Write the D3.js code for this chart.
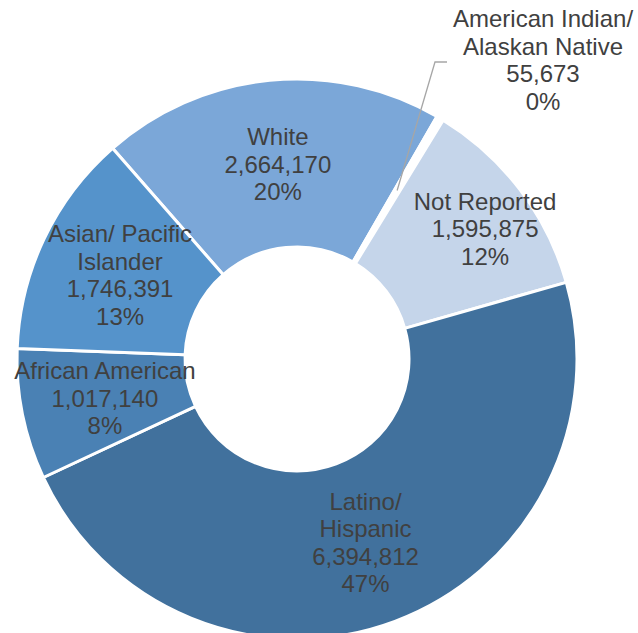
<!DOCTYPE html>
<html>
<head>
<meta charset="utf-8">
<script src="https://cdn.jsdelivr.net/npm/d3@7"></script>
<style>
    html, body { margin: 0; padding: 0; background: #fff; }
    svg { display: block; }
    .slice-label { font-family: Arial, "Liberation Sans", sans-serif; font-size: 24px; fill: #404040; }
</style>
</head>
<body>
<svg id="chart" width="638" height="633"></svg>
<script>
    // data, clockwise from the slice that starts the ring
    var categories = ['White', 'American Indian/\nAlaskan Native', 'Not Reported', 'Latino/\nHispanic', 'African American', 'Asian/ Pacific\nIslander'];
    var values = [2664170, 55673, 1595875, 6394812, 1017140, 1746391];
    var colors = ['#7BA7D8', '#FFFFFF', '#C5D5EA', '#41719D', '#4A81B4', '#5593CB'];

    var width = 638;
    var height = 633;
    var cx = 297;
    var cy = 359;
    var outerRadius = 280;
    var innerRadius = 112;
    var lineHeight = 27.5;

    // labels that were dragged away from the ring centre
    var labelShift = { 2: [32, -12] };
    var calloutIndex = 1;
    var calloutLabel = [543, 60];

    var total = d3.sum(values);
    var fmtNum = d3.format(',');
    var fmtPct = d3.format('.0%');

    var startAngle = -41.2 * Math.PI / 180;

    var pie = d3.pie()
        .sort(null)
        .value(function(d) { return d; })
        .startAngle(startAngle)
        .endAngle(startAngle + 2 * Math.PI);

    var arc = d3.arc()
        .innerRadius(innerRadius)
        .outerRadius(outerRadius);

    var labelArc = d3.arc()
        .innerRadius((innerRadius + outerRadius) / 2)
        .outerRadius((innerRadius + outerRadius) / 2);

    var arcs = pie(values);

    var svg = d3.select('#chart');
    var g = svg.append('g')
        .attr('transform', 'translate(' + cx + ',' + cy + ')');

    g.selectAll('path.slice')
        .data(arcs)
        .enter()
        .append('path')
        .attr('class', 'slice')
        .attr('d', arc)
        .attr('fill', function(d, i) { return colors[i]; })
        .attr('stroke', '#fff')
        .attr('stroke-width', 3)
        .attr('stroke-linejoin', 'round');

    arcs.forEach(function(d, i) {
        var lines = categories[i].split('\n').concat([fmtNum(values[i]), fmtPct(values[i] / total)]);
        var c = labelArc.centroid(d);
        var x, y;

        if (i === calloutIndex) {
            x = calloutLabel[0] - cx;
            y = calloutLabel[1] - cy;
            // leader line from the slice to the label
            g.append('polyline')
                .attr('points', [c, [x - 108, y + 2], [x - 96, y + 2]].map(function(p) { return p.join(','); }).join(' '))
                .attr('fill', 'none')
                .attr('stroke', '#A6A6A6')
                .attr('stroke-width', 1.3);
        } else {
            var s = labelShift[i] || [0, 0];
            x = c[0] + s[0];
            y = c[1] + s[1];
        }

        var firstBaseline = y - (lines.length - 1) * lineHeight / 2 + 8.6;
        var text = g.append('text')
            .attr('class', 'slice-label')
            .attr('text-anchor', 'middle');

        lines.forEach(function(line, k) {
            text.append('tspan')
                .attr('x', x)
                .attr('y', firstBaseline + k * lineHeight)
                .text(line);
        });
    });
</script>
</body>
</html>
